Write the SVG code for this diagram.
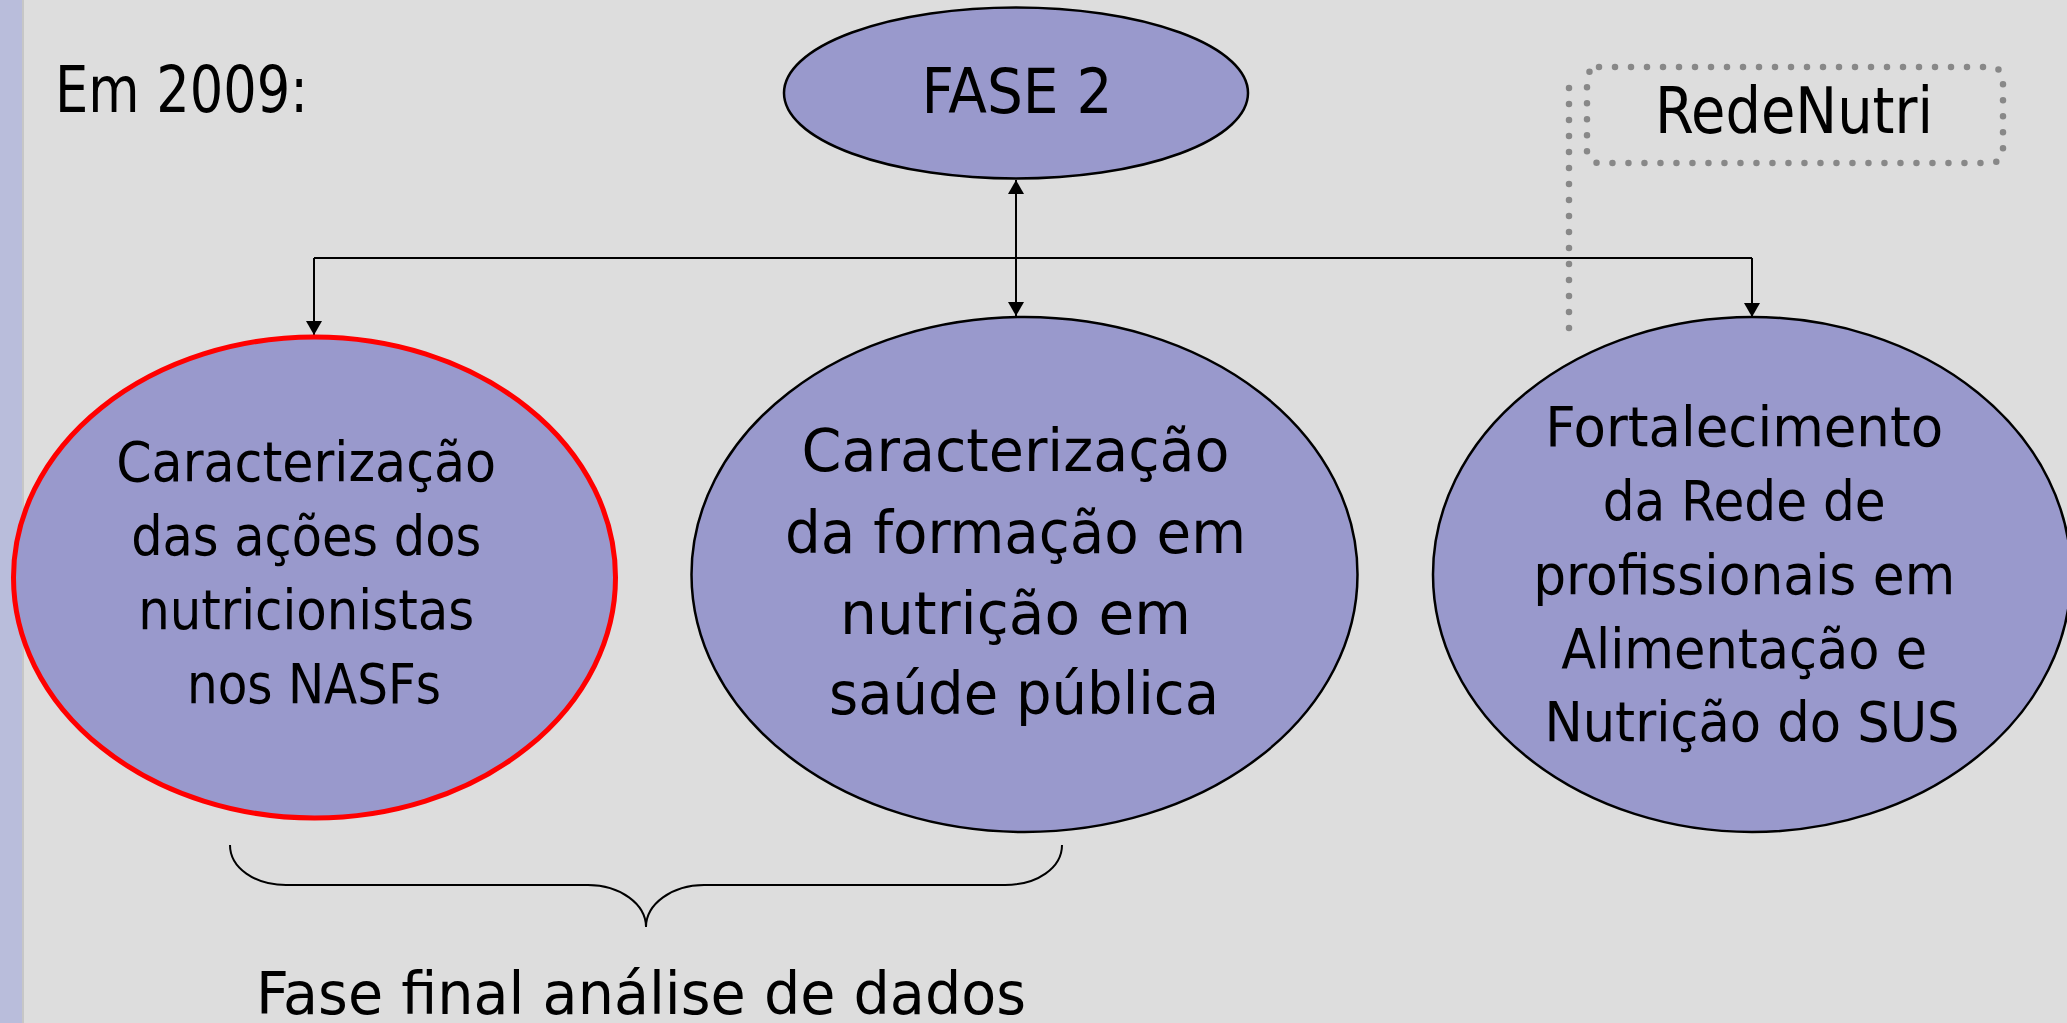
<svg xmlns="http://www.w3.org/2000/svg" width="2067" height="1023" viewBox="0 0 2067 1023">
  <defs>
    <style>
      .t { font-family: "DejaVu Sans Condensed", "DejaVu Sans", sans-serif; fill: #000; }
      .node { fill: #9999CC; stroke: #000; stroke-width: 2.5; }
      .red { fill: #9999CC; stroke: #FF0000; stroke-width: 5; }
      .con { fill: none; stroke: #000; stroke-width: 2; }
      .dot { fill: none; stroke: #888888; stroke-width: 6.5; stroke-linecap: round; stroke-dasharray: 0 16; }
    </style>
    <marker id="arr" viewBox="0 0 14 16" refX="14" refY="8" markerWidth="14" markerHeight="16" markerUnits="userSpaceOnUse" orient="auto-start-reverse">
      <path d="M0,0 L14,8 L0,16 z" fill="#000"/>
    </marker>
  </defs>

  <rect x="0" y="0" width="2067" height="1023" fill="#DDDDDD"/>
  <rect x="0" y="0" width="22" height="1023" fill="#B9BDDB"/>
  <rect x="22" y="0" width="2" height="1023" fill="#C6C6C6"/>

  <text class="t" x="55" y="112" font-size="64" textLength="253" lengthAdjust="spacingAndGlyphs">Em 2009:</text>

  <g id="connectors">
    <path class="con" d="M314,258 L1752,258"/>
    <path class="con" d="M314,258 L314,335" marker-end="url(#arr)"/>
    <path class="con" d="M1752,258 L1752,317" marker-end="url(#arr)"/>
    <path class="con" d="M1016,180 L1016,316" marker-start="url(#arr)" marker-end="url(#arr)"/>
  </g>

  <g id="fase2">
    <ellipse class="node" cx="1016" cy="93" rx="232" ry="85.5"/>
    <text class="t" x="1017" y="113" font-size="62" text-anchor="middle" textLength="191" lengthAdjust="spacingAndGlyphs">FASE 2</text>
  </g>

  <g id="rede-nutri">
    <rect class="dot" x="1587" y="67" width="416" height="96" rx="12"/>
    <path class="dot" d="M1569,88 L1569,343"/>
    <text class="t" x="1794" y="133" font-size="64" text-anchor="middle" textLength="278" lengthAdjust="spacingAndGlyphs">RedeNutri</text>
  </g>

  <g id="node-nasf">
    <ellipse class="red" cx="314.5" cy="577.5" rx="301" ry="240.5"/>
    <text class="t" font-size="55" text-anchor="middle">
      <tspan x="314" y="481" textLength="380" lengthAdjust="spacingAndGlyphs">Caracterização</tspan>
      <tspan x="314" y="555" textLength="350" lengthAdjust="spacingAndGlyphs">das ações dos</tspan>
      <tspan x="314" y="629" textLength="336" lengthAdjust="spacingAndGlyphs">nutricionistas</tspan>
      <tspan x="314" y="703" textLength="254" lengthAdjust="spacingAndGlyphs">nos NASFs</tspan>
    </text>
  </g>

  <g id="node-formacao">
    <ellipse class="node" cx="1024.5" cy="574.5" rx="333" ry="257.5"/>
    <text class="t" font-size="59" text-anchor="middle">
      <tspan x="1024" y="471" textLength="428" lengthAdjust="spacingAndGlyphs">Caracterização</tspan>
      <tspan x="1024" y="553" textLength="461" lengthAdjust="spacingAndGlyphs">da formação em</tspan>
      <tspan x="1024" y="634" textLength="351" lengthAdjust="spacingAndGlyphs">nutrição em</tspan>
      <tspan x="1024" y="714" textLength="390" lengthAdjust="spacingAndGlyphs">saúde pública</tspan>
    </text>
  </g>

  <g id="node-rede">
    <ellipse class="node" cx="1752" cy="574.5" rx="319" ry="257.5"/>
    <text class="t" font-size="55" text-anchor="middle">
      <tspan x="1752" y="446" textLength="398" lengthAdjust="spacingAndGlyphs">Fortalecimento</tspan>
      <tspan x="1752" y="520" textLength="283" lengthAdjust="spacingAndGlyphs">da Rede de</tspan>
      <tspan x="1752" y="594" textLength="422" lengthAdjust="spacingAndGlyphs">profissionais em</tspan>
      <tspan x="1752" y="668" textLength="366" lengthAdjust="spacingAndGlyphs">Alimentação e</tspan>
      <tspan x="1752" y="741" textLength="415" lengthAdjust="spacingAndGlyphs">Nutrição do SUS</tspan>
    </text>
  </g>

  <g id="brace">
    <path class="con" stroke-width="2.5" d="M230,845 C230,868 255,885 286,885 L588,885 C620,885 646,904 646,927 C646,904 672,885 704,885 L1005,885 C1037,885 1062,868 1062,845"/>
    <text class="t" x="641" y="1014" font-size="58" text-anchor="middle" textLength="770" lengthAdjust="spacingAndGlyphs">Fase final análise de dados</text>
  </g>
</svg>
